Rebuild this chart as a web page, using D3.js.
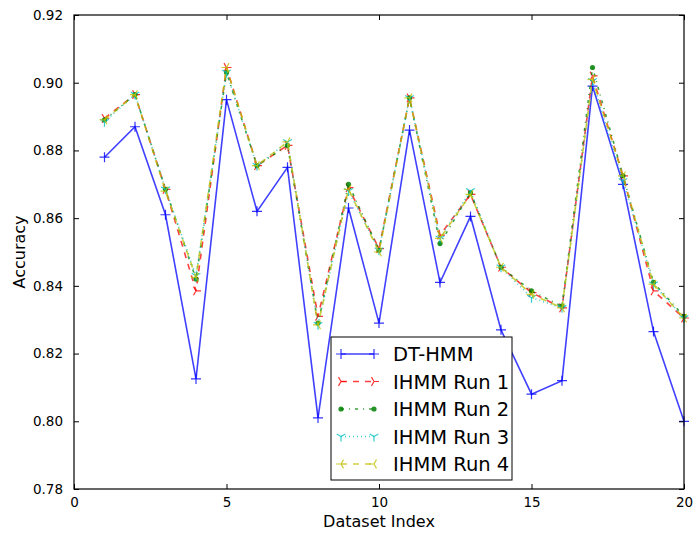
<!DOCTYPE html>
<html>
<head>
<meta charset="utf-8">
<script src="https://cdn.jsdelivr.net/npm/d3@7"></script>
<style>
  body { margin: 0; background: #fff; }
  svg text { font-family: "DejaVu Sans", sans-serif; fill: #000; }
</style>
</head>
<body>
<div id="chart"></div>
<script>
// Data.
var datasetIndex = [1, 2, 3, 4, 5, 6, 7, 8, 9, 10, 11, 12, 13, 14, 15, 16, 17, 18, 19, 20];
var dtHmm   = [0.878, 0.887, 0.861, 0.8125, 0.895, 0.862, 0.875, 0.801, 0.863, 0.829, 0.886, 0.841, 0.8605, 0.827, 0.808, 0.812, 0.899, 0.870, 0.8265, 0.800];
var ihmmRun1 = [0.8895, 0.8965, 0.8685, 0.8385, 0.9045, 0.8755, 0.8815, 0.831, 0.869, 0.851, 0.8955, 0.855, 0.867, 0.8455, 0.838, 0.8335, 0.902, 0.8725, 0.8385, 0.8305];
var ihmmRun2 = [0.889, 0.8965, 0.8685, 0.842, 0.903, 0.8755, 0.8815, 0.829, 0.870, 0.8505, 0.8955, 0.8525, 0.8675, 0.8455, 0.8385, 0.834, 0.9045, 0.8725, 0.841, 0.831];
var ihmmRun3 = [0.8885, 0.8965, 0.8685, 0.843, 0.903, 0.8755, 0.8825, 0.8285, 0.868, 0.8505, 0.8955, 0.854, 0.868, 0.8455, 0.8365, 0.8335, 0.9005, 0.871, 0.8405, 0.8305];
var ihmmRun4 = [0.889, 0.8965, 0.868, 0.8425, 0.9045, 0.8755, 0.8825, 0.8285, 0.8685, 0.850, 0.8955, 0.854, 0.867, 0.8455, 0.8375, 0.8335, 0.901, 0.8725, 0.8405, 0.8305];
var xTicks = [0, 5, 10, 15, 20];
var yTicks = [0.78, 0.80, 0.82, 0.84, 0.86, 0.88, 0.90, 0.92];

var series = [
  {name: "DT-HMM",     values: dtHmm,    color: "#0000ff", dash: null,        marker: "plus"},
  {name: "IHMM Run 1", values: ihmmRun1, color: "#ff0000", dash: "6,6",       marker: "triRight"},
  {name: "IHMM Run 2", values: ihmmRun2, color: "#008000", dash: "3,5,1,5",   marker: "dot"},
  {name: "IHMM Run 3", values: ihmmRun3, color: "#00bfbf", dash: "1,3",       marker: "triDown"},
  {name: "IHMM Run 4", values: ihmmRun4, color: "#bfbf00", dash: "6,6",       marker: "triLeft"}
];

var margin = {top: 15, right: 11, bottom: 47, left: 74};
var W = 695, H = 536;
var width = W - margin.left - margin.right;
var height = H - margin.top - margin.bottom;

var svg = d3.select('#chart').append('svg')
  .attr('width', W).attr('height', H);
var g = svg.append('g')
  .attr('transform', 'translate(' + margin.left + ',' + margin.top + ')');

var x = d3.scaleLinear().domain([0, 20]).range([0, width]);
var y = d3.scaleLinear().domain([0.78, 0.92]).range([height, 0]);

// Lines
var line = d3.line()
  .x(function(d, i) { return x(datasetIndex[i]); })
  .y(function(d) { return y(d); });

// Draw a marker path at the origin.
function markerPath(kind, r) {
  var c = 0.866 * r, h = 0.5 * r;
  if (kind === "plus") return "M" + (-r) + ",0H" + r + "M0," + (-r) + "V" + r;
  if (kind === "triRight") return "M0,0L" + r + ",0M0,0L" + (-h) + "," + (-c) + "M0,0L" + (-h) + "," + c;
  if (kind === "triLeft") return "M0,0L" + (-r) + ",0M0,0L" + h + "," + (-c) + "M0,0L" + h + "," + c;
  if (kind === "triDown") return "M0,0L0," + r + "M0,0L" + (-c) + "," + (-h) + "M0,0L" + c + "," + (-h);
  return "";
}

function drawMarker(sel, s, px, py) {
  if (s.marker === "dot") {
    sel.append('circle').attr('cx', px).attr('cy', py).attr('r', 2.6)
      .attr('fill', s.color).attr('opacity', 0.85);
  } else {
    sel.append('path').attr('d', markerPath(s.marker, 5))
      .attr('transform', 'translate(' + px + ',' + py + ')')
      .attr('fill', 'none').attr('stroke', s.color)
      .attr('stroke-width', 1.2).attr('opacity', 0.8);
  }
}

series.forEach(function(s) {
  g.append('path')
    .datum(s.values)
    .attr('d', line)
    .attr('fill', 'none')
    .attr('stroke', s.color)
    .attr('stroke-width', 1.6)
    .attr('stroke-opacity', 0.75)
    .attr('stroke-dasharray', s.dash);
  var mg = g.append('g');
  s.values.forEach(function(v, i) {
    drawMarker(mg, s, x(datasetIndex[i]), y(v));
  });
});

// Axes: ticks point inwards on all four sides
var tickLen = 5;
g.append('g').attr('transform', 'translate(0,' + height + ')')
  .call(d3.axisBottom(x).tickValues(xTicks).tickSize(-tickLen).tickPadding(8).tickFormat(d3.format('d')));
g.append('g').call(d3.axisTop(x).tickValues(xTicks).tickSize(-tickLen).tickFormat(''));
g.append('g')
  .call(d3.axisLeft(y).tickValues(yTicks).tickSize(-tickLen).tickPadding(11).tickFormat(d3.format('.2f')));
g.append('g').attr('transform', 'translate(' + width + ',0)')
  .call(d3.axisRight(y).tickValues(yTicks).tickSize(-tickLen).tickFormat(''));

g.selectAll('.domain').remove();
g.selectAll('.tick line').attr('stroke', '#000');
g.selectAll('.tick text').attr('font-size', 13.5).attr('font-family', 'DejaVu Sans');

g.append('rect').attr('width', width).attr('height', height)
  .attr('fill', 'none').attr('stroke', '#000').attr('stroke-width', 1.2);

// Axis labels
svg.append('text')
  .attr('x', margin.left + width / 2).attr('y', 527)
  .attr('text-anchor', 'middle').attr('font-size', 16)
  .text('Dataset Index');
svg.append('text')
  .attr('transform', 'translate(25,' + (margin.top + height / 2) + ') rotate(-90)')
  .attr('text-anchor', 'middle').attr('font-size', 16)
  .text('Accuracy');

// Legend
var lg = svg.append('g').attr('transform', 'translate(331,337)');
lg.append('rect').attr('width', 181).attr('height', 143)
  .attr('fill', '#fff').attr('stroke', '#000').attr('stroke-width', 1);
series.forEach(function(s, i) {
  var ry = 17 + i * 27.5;
  lg.append('line').attr('x1', 10).attr('x2', 43).attr('y1', ry).attr('y2', ry)
    .attr('stroke', s.color).attr('stroke-width', 1.5).attr('stroke-opacity', 0.75)
    .attr('stroke-dasharray', s.dash);
  drawMarker(lg, s, 10, ry);
  drawMarker(lg, s, 43, ry);
  lg.append('text').attr('x', 62).attr('y', ry + 7)
    .attr('font-size', 19.5).text(s.name);
});
</script>
</body>
</html>
